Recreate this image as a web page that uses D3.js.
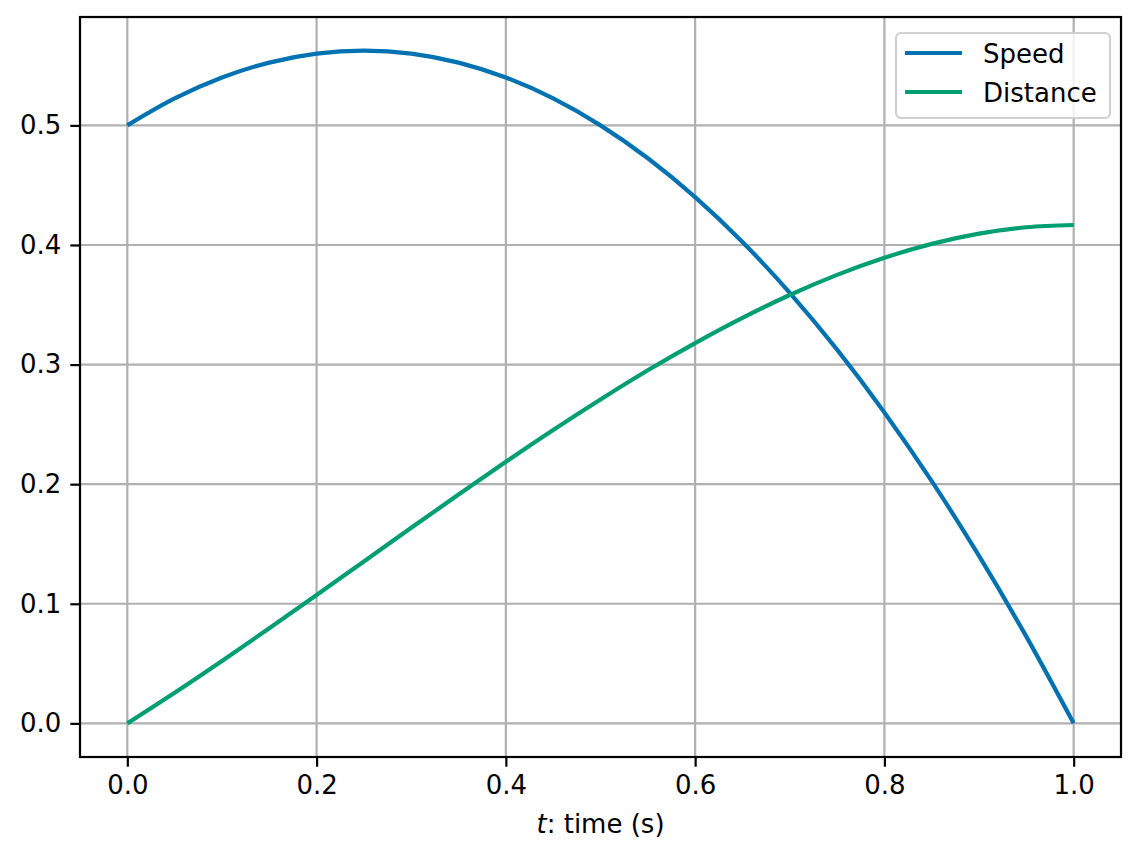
<!DOCTYPE html>
<html>
<head>
<meta charset="utf-8">
<script src="https://cdn.jsdelivr.net/npm/d3@7"></script>
<style>
  body { margin: 0; background: #fff; }
  svg text { font-family: "DejaVu Sans", sans-serif; }
</style>
</head>
<body>
<div id="chart"></div>
<script>
// values
const times = [0, 0.05, 0.1, 0.15, 0.2, 0.25, 0.3, 0.35, 0.4, 0.45, 0.5,
  0.55, 0.6, 0.65, 0.7, 0.75, 0.8, 0.85, 0.9, 0.95, 1.0];
const speed = [0.5, 0.5225, 0.54, 0.5525, 0.56, 0.5625, 0.56, 0.5525, 0.54, 0.5225, 0.5,
  0.4725, 0.44, 0.4025, 0.36, 0.3125, 0.26, 0.2025, 0.14, 0.0725, 0];
const distance = [0, 0.0256, 0.0522, 0.0795, 0.1073, 0.1354, 0.1635, 0.1913, 0.2187, 0.2453, 0.2708,
  0.2952, 0.318, 0.3391, 0.3582, 0.375, 0.3893, 0.4009, 0.4095, 0.4148, 0.4167];
const seriesNames = ["Speed", "Distance"];
const seriesColors = ["#0072B2", "#009E73"];
const xTicks = [0, 0.2, 0.4, 0.6, 0.8, 1.0];
const yTicks = [0, 0.1, 0.2, 0.3, 0.4, 0.5];

const width = 1141, height = 860;
const margin = { top: 17, right: 20, bottom: 103, left: 80 };
const innerW = width - margin.left - margin.right;
const innerH = height - margin.top - margin.bottom;
const fontSize = 26;

const svg = d3.select("#chart").append("svg")
  .attr("width", width)
  .attr("height", height);

const g = svg.append("g")
  .attr("transform", `translate(${margin.left},${margin.top})`);

// matplotlib style 5% padding around data
const x = d3.scaleLinear().domain([-0.05, 1.05]).range([0, innerW]);
const y = d3.scaleLinear().domain([-0.028125, 0.590625]).range([innerH, 0]);

// grid
g.append("g").selectAll("line.vgrid").data(xTicks).join("line")
  .attr("x1", d => x(d)).attr("x2", d => x(d))
  .attr("y1", 0).attr("y2", innerH)
  .attr("stroke", "#b0b0b0").attr("stroke-width", 2.2);
g.append("g").selectAll("line.hgrid").data(yTicks).join("line")
  .attr("y1", d => y(d)).attr("y2", d => y(d))
  .attr("x1", 0).attr("x2", innerW)
  .attr("stroke", "#b0b0b0").attr("stroke-width", 2.2);

// lines
const data = seriesNames.map((name, i) => ({
  name,
  color: seriesColors[i],
  values: times.map((t, j) => [t, i === 0 ? speed[j] : distance[j]])
}));

const line = d3.line()
  .x(d => x(d[0]))
  .y(d => y(d[1]))
  .curve(d3.curveMonotoneX);

g.selectAll("path.series").data(data).join("path")
  .attr("class", "series")
  .attr("fill", "none")
  .attr("stroke", d => d.color)
  .attr("stroke-width", 4.2)
  .attr("d", d => line(d.values));

// axes
const xAxis = g.append("g")
  .attr("transform", `translate(0,${innerH})`)
  .call(d3.axisBottom(x).tickValues(xTicks).tickFormat(d3.format(".1f"))
    .tickSize(9.7).tickPadding(9));
const yAxis = g.append("g")
  .call(d3.axisLeft(y).tickValues(yTicks).tickFormat(d3.format(".1f"))
    .tickSize(9.7).tickPadding(9));

[xAxis, yAxis].forEach(a => {
  a.select(".domain").remove();
  a.selectAll(".tick line").attr("stroke", "#000").attr("stroke-width", 2.2);
  a.selectAll(".tick text")
    .attr("fill", "#000")
    .style("font-size", fontSize + "px")
    .style("font-family", "DejaVu Sans");
});

// frame
g.append("rect")
  .attr("width", innerW).attr("height", innerH)
  .attr("fill", "none").attr("stroke", "#000").attr("stroke-width", 2.2);

// x label
const xl = svg.append("text")
  .attr("x", margin.left + innerW / 2)
  .attr("y", 833)
  .attr("text-anchor", "middle")
  .style("font-size", fontSize + "px");
xl.append("tspan").attr("font-style", "italic").text("t");
xl.append("tspan").text(": time (s)");

// legend
const legend = svg.append("g").attr("transform", "translate(896,33)");
legend.append("rect")
  .attr("width", 214).attr("height", 85)
  .attr("rx", 5).attr("ry", 5)
  .attr("fill", "#fff").attr("fill-opacity", 0.8)
  .attr("stroke", "#d0d0d0").attr("stroke-width", 2.2);

const item = legend.selectAll("g.item").data(data).join("g")
  .attr("class", "item")
  .attr("transform", (d, i) => `translate(0,${20 + i * 39})`);
item.append("line")
  .attr("x1", 9).attr("x2", 66)
  .attr("stroke", d => d.color).attr("stroke-width", 4.2);
item.append("text")
  .attr("x", 87).attr("y", 9.5)
  .style("font-size", fontSize + "px")
  .text(d => d.name);
</script>
</body>
</html>
